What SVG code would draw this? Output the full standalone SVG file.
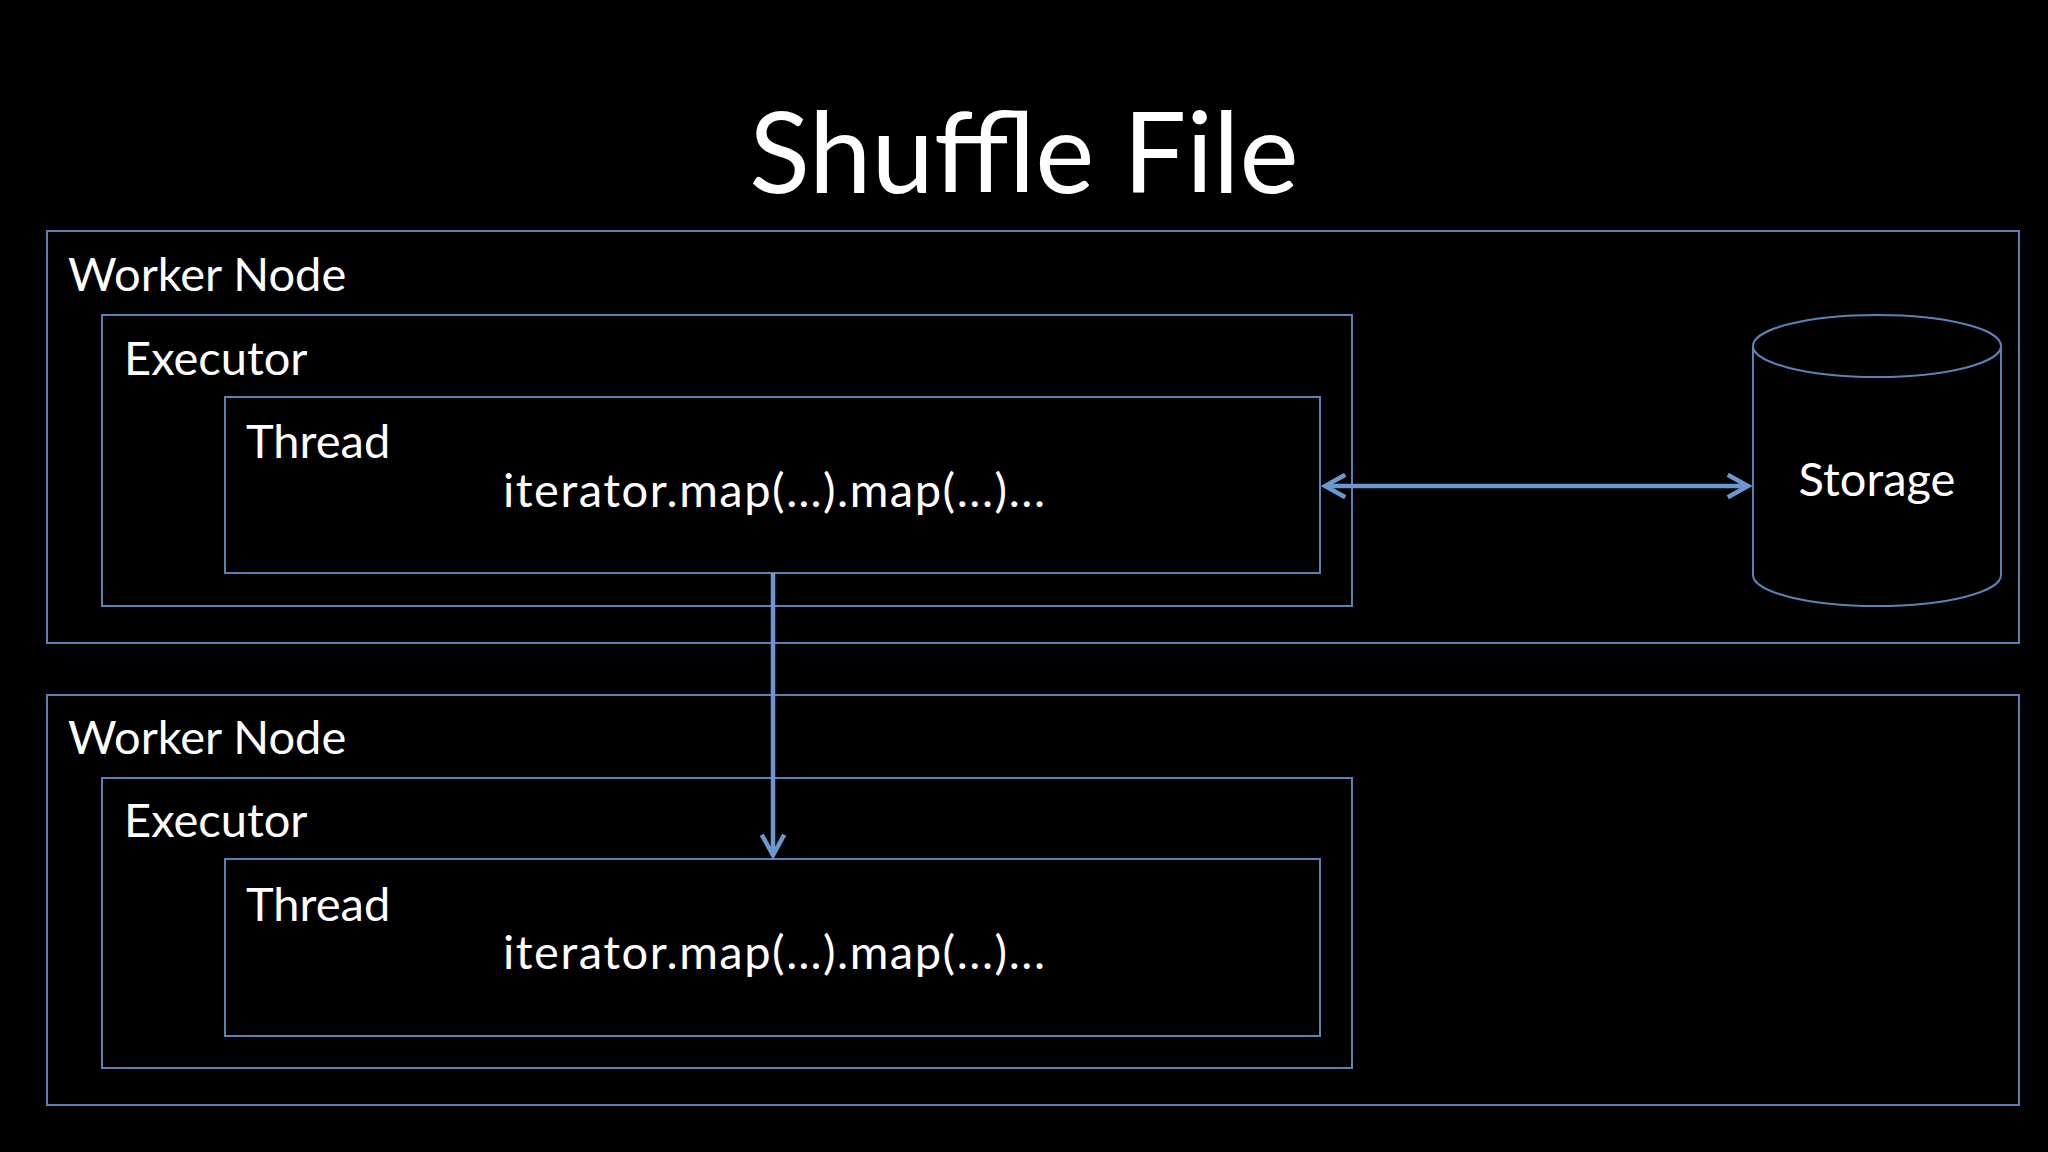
<svg xmlns="http://www.w3.org/2000/svg" width="2048" height="1152" viewBox="0 0 2048 1152">
<defs>
<style>
.box{fill:none;stroke:#5b82b5;stroke-width:2}
.t{fill:#fff;font-family:Lato,"Open Sans",sans-serif;font-size:47px}
.conn{stroke:#6a98cf;stroke-width:4.5;fill:none}
</style>
<marker id="ah" viewBox="0 0 12 12" refX="10" refY="6" markerWidth="6" markerHeight="6" orient="auto-start-reverse" markerUnits="strokeWidth"><path d="M1,1 L10,6 L1,11" fill="none" stroke="#6a98cf" stroke-width="2"/></marker>
</defs>
<rect width="2048" height="1152" fill="#000"/>
<text x="1024" y="193" text-anchor="middle" class="t" style="font-size:112px">Shuffle File</text>
<g id="worker1"><rect class="box" x="47" y="231" width="1972" height="412"/><text class="t" x="68" y="291">Worker Node</text></g>
<g id="executor1"><rect class="box" x="102" y="315" width="1250" height="291"/><text class="t" x="124" y="375">Executor</text></g>
<g id="thread1"><rect class="box" x="225" y="397" width="1095" height="176"/><text class="t" x="246" y="458">Thread</text><text class="t" x="503" y="507" textLength="542" lengthAdjust="spacing">iterator.map(…).map(...)...</text></g>
<g id="storage"><path class="box" d="M1753,346 V575 A124,31 0 0 0 2001,575 V346"/><ellipse class="box" cx="1877" cy="346" rx="124" ry="31"/><text class="t" x="1877" y="496" text-anchor="middle">Storage</text></g>
<g id="worker2"><rect class="box" x="47" y="695" width="1972" height="410"/><text class="t" x="68" y="754">Worker Node</text></g>
<g id="executor2"><rect class="box" x="102" y="778" width="1250" height="290"/><text class="t" x="124" y="837">Executor</text></g>
<g id="thread2"><rect class="box" x="225" y="859" width="1095" height="177"/><text class="t" x="246" y="921">Thread</text><text class="t" x="503" y="969" textLength="542" lengthAdjust="spacing">iterator.map(…).map(...)...</text></g>
<g id="connectors">
<line class="conn" x1="1325" y1="486" x2="1748" y2="486" marker-start="url(#ah)" marker-end="url(#ah)"/>
<line class="conn" x1="773" y1="573" x2="773" y2="855" marker-end="url(#ah)"/>
</g>
</svg>
